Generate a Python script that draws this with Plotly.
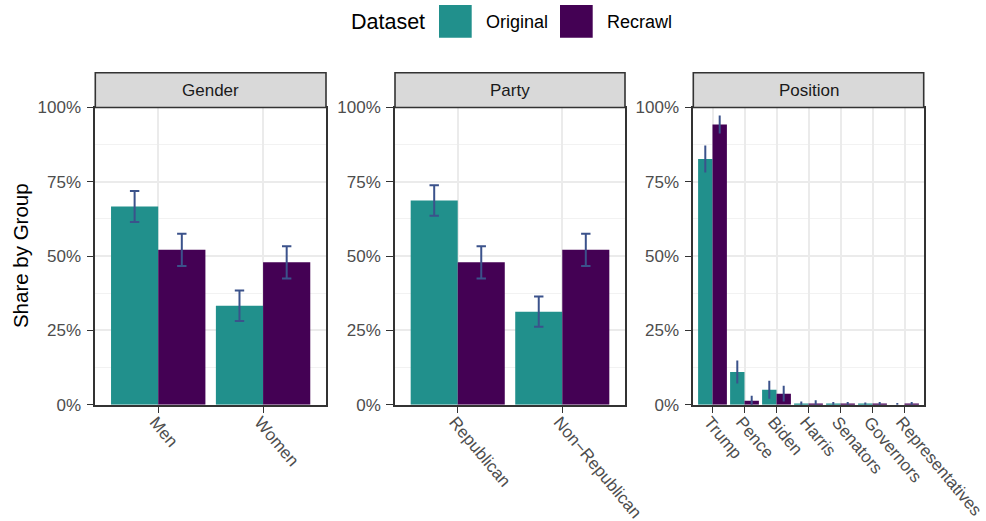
import plotly.graph_objects as go

# ---- data ----------------------------------------------------------------
gender_groups = ["Men", "Women"]
gender_original = [0.667, 0.333]
gender_original_err = [0.052, 0.051]
gender_recrawl = [0.521, 0.479]
gender_recrawl_err = [0.054, 0.054]

party_groups = ["Republican", "Non\u2212Republican"]
party_original = [0.687, 0.313]
party_original_err = [0.051, 0.051]
party_recrawl = [0.479, 0.521]
party_recrawl_err = [0.054, 0.054]

position_groups = ["Trump", "Pence", "Biden", "Harris", "Senators", "Governors", "Representatives"]
position_original = [0.827, 0.110, 0.050, 0.002, 0.002, 0.001, 0.000]
position_original_err = [0.042, 0.035, 0.027, 0.005, 0.004, 0.003, 0.002]
position_recrawl = [0.943, 0.013, 0.037, 0.004, 0.002, 0.002, 0.002]
position_recrawl_err = [0.027, 0.014, 0.023, 0.008, 0.004, 0.004, 0.004]

panel_titles = ["Gender", "Party", "Position"]
y_ticks = [0, 0.25, 0.5, 0.75, 1.0]
y_ticklabels = ["0%", "25%", "50%", "75%", "100%"]

dataset_names = ["Original", "Recrawl"]
dataset_colors = ["#21908C", "#440154"]
err_color = "#3B528B"

# ---- layout geometry (pixels in a 986x521 page) ---------------------------
W, H = 986, 521
panel_x = [(95.3, 326.0), (395.0, 625.0), (693.3, 923.7)]
panel_top, panel_bottom = 107.5, 404.7
strip_top = 72.7

FONT = "Liberation Sans, Arial, Helvetica, sans-serif"
GRID = "#EBEBEB"
DARK = "#333333"


def px(x):
    return x / W


def py(y):
    return 1 - y / H


panels = [
    (gender_groups, gender_original, gender_original_err, gender_recrawl, gender_recrawl_err, 4.7),
    (party_groups, party_original, party_original_err, party_recrawl, party_recrawl_err, 4.7),
    (position_groups, position_original, position_original_err, position_recrawl, position_recrawl_err, 1.0),
]

fig = go.Figure()
shapes = []
annotations = []

for i, (cats, orig, orig_err, rec, rec_err, cap) in enumerate(panels):
    n = "" if i == 0 else str(i + 1)
    xa, ya = "x" + n, "y" + n
    for name, vals, errs, color in [
        (dataset_names[0], orig, orig_err, dataset_colors[0]),
        (dataset_names[1], rec, rec_err, dataset_colors[1]),
    ]:
        fig.add_trace(go.Bar(
            x=cats, y=vals, name=name, marker=dict(color=color, line=dict(width=0)),
            offsetgroup=name, xaxis=xa, yaxis=ya, showlegend=False,
            error_y=dict(type="data", array=errs, visible=True, color=err_color,
                         thickness=2, width=cap),
        ))

    x0, x1 = panel_x[i]
    fig.update_layout(**{
        "xaxis" + n: dict(
            domain=[px(x0), px(x1)], anchor=ya, type="category", automargin=False,
            range=[-0.6, len(cats) - 0.4], showgrid=True, gridcolor=GRID, gridwidth=2,
            showline=True, mirror=True, linecolor=DARK, linewidth=1.6,
            ticks="outside", ticklen=6, tickwidth=1.4, tickcolor=DARK,
            tickangle=50, tickfont=dict(family=FONT, size=17, color="#4D4D4D"),
            ticklabelstandoff=-7, ticklabelshift=-3,
            zeroline=False, fixedrange=True,
        ),
        "yaxis" + n: dict(
            domain=[py(panel_bottom), py(panel_top)], anchor=xa, automargin=False,
            range=[0, 1], tickvals=y_ticks, ticktext=y_ticklabels,
            showgrid=True, gridcolor=GRID, gridwidth=2,
            minor=dict(tickvals=[0.125, 0.375, 0.625, 0.875], showgrid=True,
                       gridcolor="#F2F2F2", gridwidth=1, ticks=""),
            showline=True, mirror=True, linecolor=DARK, linewidth=1.6,
            ticks="outside", ticklen=7, tickwidth=1.4, tickcolor=DARK,
            tickfont=dict(family=FONT, size=17, color="#4D4D4D"),
            ticklabelstandoff=2,
            zeroline=False, fixedrange=True,
        ),
    })

    # facet strip
    shapes.append(dict(type="rect", xref="paper", yref="paper",
                       x0=px(x0), x1=px(x1), y0=py(panel_top), y1=py(strip_top),
                       fillcolor="#D9D9D9", line=dict(color=DARK, width=1.6), layer="above"))
    annotations.append(dict(text=panel_titles[i], xref="paper", yref="paper",
                            x=px((x0 + x1) / 2), y=py((panel_top + strip_top) / 2),
                            xanchor="center", yanchor="middle", showarrow=False,
                            font=dict(family=FONT, size=17, color="#1A1A1A")))

# y axis title
annotations.append(dict(text="Share by Group", xref="paper", yref="paper",
                        x=px(20), y=py((panel_top + panel_bottom) / 2), textangle=-90,
                        xanchor="center", yanchor="middle", showarrow=False,
                        font=dict(family=FONT, size=20.5, color="#000000")))

# legend drawn at the top
annotations.append(dict(text="Dataset", xref="paper", yref="paper",
                        x=px(349), y=py(21.5), xanchor="left", yanchor="middle",
                        showarrow=False, font=dict(family=FONT, size=21.5, color="#000000")))
legend_keys = [(439.0, 484.0), (560.0, 605.3)]
for (kx, tx), name, color in zip(legend_keys, dataset_names, dataset_colors):
    shapes.append(dict(type="rect", xref="paper", yref="paper",
                       x0=px(kx), x1=px(kx + 32.7), y0=py(37.7), y1=py(5.0),
                       fillcolor=color, line=dict(width=0)))
    annotations.append(dict(text=name, xref="paper", yref="paper",
                            x=px(tx), y=py(21.5), xanchor="left", yanchor="middle",
                            showarrow=False, font=dict(family=FONT, size=18, color="#000000")))

fig.update_layout(
    template="none",
    width=W, height=H, margin=dict(l=0, r=0, t=0, b=0, autoexpand=False),
    paper_bgcolor="white", plot_bgcolor="white",
    barmode="group", bargap=0.1, bargroupgap=0,
    shapes=shapes, annotations=annotations, showlegend=False,
)

fig.write_html("out.html", config={"displayModeBar": False})
